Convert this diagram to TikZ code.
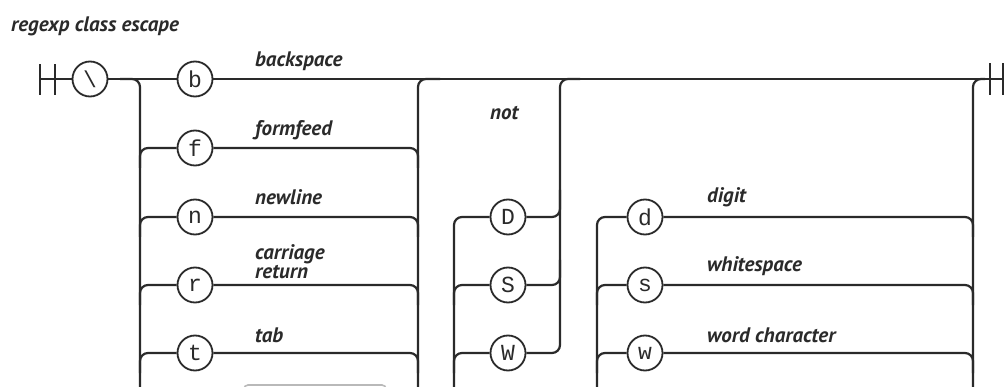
\documentclass[tikz,border=0pt]{standalone}
\usepackage{fontspec}
\newfontfamily\labfont{PT Sans}
\newfontfamily\circfont{Liberation Mono}
\definecolor{ink}{HTML}{2A2A2A}
\tikzset{
  term/.style={circle, draw=ink, line width=1.8pt, minimum size=35pt, inner sep=0pt,
    font=\circfont\fontsize{23}{23}\selectfont, text=ink},
  lab/.style={anchor=base west, inner sep=0pt, text=ink,
    font=\labfont\bfseries\itshape\fontsize{21}{22}\selectfont},
  rail/.style={draw=ink, line width=2.2pt, rounded corners=8pt},
  bar/.style={draw=ink, line width=2.2pt}
}
\begin{document}
\begin{tikzpicture}[x=1pt,y=-1pt]
\useasboundingbox (0,0) rectangle (1006,387);
\fill[white] (0,0) rectangle (1006,387);
\clip (0,0) rectangle (1006,387);

% title
\node[lab] (title) at (11,32) {regexp class escape};

% start / end
\coordinate (start) at (40,79);
\coordinate (start2) at (55,79);
\coordinate (fin) at (1003,79);
\coordinate (fin1) at (990,79);
\draw[bar] ([yshift=-16pt]start) -- ([yshift=15pt]start);
\draw[bar] ([yshift=-16pt]start2) -- ([yshift=15pt]start2);
\draw[bar] ([yshift=-16pt]fin1) -- ([yshift=16pt]fin1);
\draw[bar] ([yshift=-16pt]fin) -- ([yshift=16pt]fin);

% terminals
\node[term] (bs) at (90,79) {\textbackslash};
\node[term] (b) at (195,79) {b};
\node[term] (f) at (195,148) {f};
\node[term] (n) at (195,217) {n};
\node[term] (r) at (195,285) {r};
\node[term] (t) at (195,353) {t};
\node[term] (D) at (508,217) {D};
\node[term] (S) at (508,285) {S};
\node[term] (W) at (508,353) {W};
\node[term] (d) at (645,217) {d};
\node[term] (s) at (645,285) {s};
\node[term] (w) at (645,353) {w};

% main line
\draw[rail] (start) -- (bs);
\draw[rail] (bs) -- (b);
\draw[rail] (b) -- (fin);

% first choice: split at x=140, join at x=418
\coordinate (sp) at (140,79);
\draw[rail] (120,79) -| (140,400);
\foreach \k in {f,n,r,t}{
  \draw[rail] ([yshift=-20pt]sp |- \k) |- (\k.west);
  \draw[rail] (\k.east) -| ([yshift=-20pt]418,0 |- \k);
}
\draw[rail] (418,400) |- (440,79);

% "not" group
\foreach \k in {S,W}{
  \draw[rail] ([yshift=-20pt]454,0 |- \k) |- (\k.west);
}
\draw[rail] (454,400) |- (D.west);
\draw[rail] (D.east) -| (560,190);
\draw[rail] (S.east) -| (560,260);
\draw[rail] (W.east) -| (560,79) -- (580,79);

% digit group
\foreach \k in {s,w}{
  \draw[rail] ([yshift=-20pt]597,0 |- \k) |- (\k.west);
}
\draw[rail] (597,400) |- (d.west);
\foreach \k in {d,s,w}{
  \draw[rail] (\k.east) -| ([yshift=-20pt]973,0 |- \k);
}
\draw[rail] (973,400) |- (985,79);

% partial box at bottom
\draw[gray!55, line width=1.6pt, rounded corners=4pt] (244,420) |- (386,385) -- (386,420);

% labels
\node[lab] (lb) at (255,67) {backspace};
\node[lab] (lf) at (255,136) {formfeed};
\node[lab] (ln) at (255,205) {newline};
\node[lab] (lc) at (255,259) {carriage};
\node[lab] (lr) at (255,278) {return};
\node[lab] (lt) at (255,342) {tab};
\node[lab] (lnot) at (490,120) {not};
\node[lab] (ld) at (707,203) {digit};
\node[lab] (lsp) at (707,272) {whitespace};
\node[lab] (lw) at (707,342) {word character};
\end{tikzpicture}
\end{document}
